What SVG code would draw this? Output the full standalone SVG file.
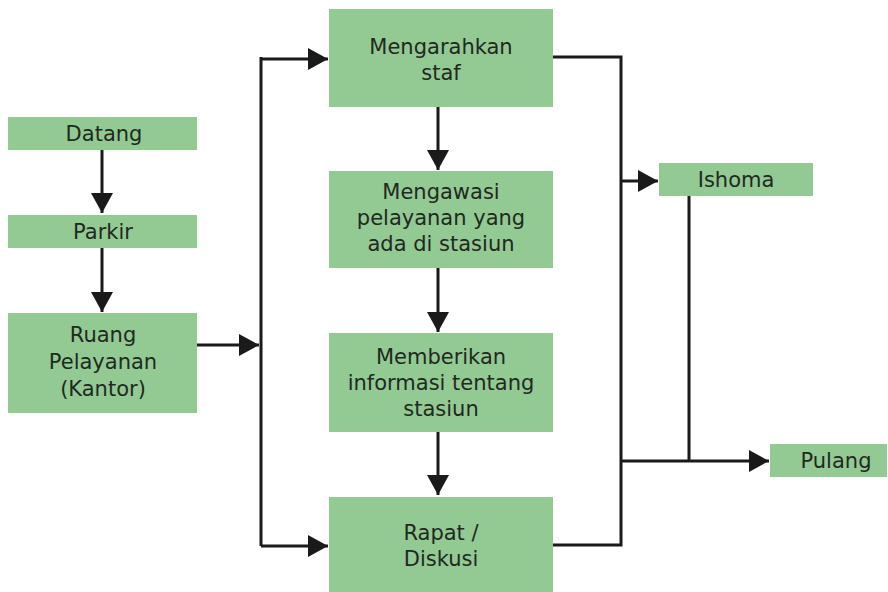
<svg xmlns="http://www.w3.org/2000/svg" width="888" height="592" viewBox="0 0 888 592">
  <style>
    .box { fill: #93c993; }
    .lbl { font-family: "DejaVu Sans", "Liberation Sans", sans-serif; font-size: 21px; fill: #1f2a1f; text-anchor: middle; }
    .wire { fill: none; stroke: #1a1a1a; stroke-width: 3; }
  </style>
  <defs>
    <marker id="arrow" markerUnits="userSpaceOnUse" markerWidth="22" markerHeight="22" refX="20" refY="11" orient="auto">
      <path d="M0,0 L20,11 L0,22 z" fill="#1a1a1a"/>
    </marker>
  </defs>
  <rect width="888" height="592" fill="#ffffff"/>

  <g id="connectors">
    <!-- left column -->
    <path class="wire" d="M102,150 V213" marker-end="url(#arrow)"/>
    <path class="wire" d="M102,248 V312" marker-end="url(#arrow)"/>
    <path class="wire" d="M197,345 H259" marker-end="url(#arrow)"/>
    <!-- distribution bus -->
    <path class="wire" d="M261,57 V546"/>
    <path class="wire" d="M261,59 H328" marker-end="url(#arrow)"/>
    <path class="wire" d="M261,546 H328" marker-end="url(#arrow)"/>
    <!-- centre column -->
    <path class="wire" d="M438,107 V170" marker-end="url(#arrow)"/>
    <path class="wire" d="M438,268 V332" marker-end="url(#arrow)"/>
    <path class="wire" d="M438,432 V495" marker-end="url(#arrow)"/>
    <!-- collecting bus -->
    <path class="wire" d="M553,57 H621 V545 H553"/>
    <path class="wire" d="M621,181 H658" marker-end="url(#arrow)"/>
    <path class="wire" d="M689,196 V461"/>
    <path class="wire" d="M621,461 H769" marker-end="url(#arrow)"/>
  </g>

  <g id="datang">
    <rect class="box" x="8" y="117" width="189" height="33"/>
    <text class="lbl" x="104" y="141">Datang</text>
  </g>
  <g id="parkir">
    <rect class="box" x="8" y="215" width="189" height="33"/>
    <text class="lbl" x="103" y="239">Parkir</text>
  </g>
  <g id="ruang-pelayanan">
    <rect class="box" x="8" y="313" width="189" height="100"/>
    <text class="lbl" x="103" y="342">Ruang</text>
    <text class="lbl" x="103" y="369">Pelayanan</text>
    <text class="lbl" x="103" y="396">(Kantor)</text>
  </g>
  <g id="mengarahkan-staf">
    <rect class="box" x="329" y="9" width="224" height="98"/>
    <text class="lbl" x="441" y="54">Mengarahkan</text>
    <text class="lbl" x="441" y="80">staf</text>
  </g>
  <g id="mengawasi">
    <rect class="box" x="329" y="171" width="224" height="97"/>
    <text class="lbl" x="441" y="199">Mengawasi</text>
    <text class="lbl" x="441" y="225">pelayanan yang</text>
    <text class="lbl" x="441" y="251">ada di stasiun</text>
  </g>
  <g id="memberikan-informasi">
    <rect class="box" x="329" y="333" width="224" height="99"/>
    <text class="lbl" x="441" y="364">Memberikan</text>
    <text class="lbl" x="441" y="390">informasi tentang</text>
    <text class="lbl" x="441" y="416">stasiun</text>
  </g>
  <g id="rapat-diskusi">
    <rect class="box" x="329" y="497" width="224" height="95"/>
    <text class="lbl" x="441" y="540">Rapat /</text>
    <text class="lbl" x="441" y="566">Diskusi</text>
  </g>
  <g id="ishoma">
    <rect class="box" x="659" y="163" width="154" height="33"/>
    <text class="lbl" x="736" y="187">Ishoma</text>
  </g>
  <g id="pulang">
    <rect class="box" x="770" y="444" width="117" height="33"/>
    <text class="lbl" x="836" y="468">Pulang</text>
  </g>
</svg>
